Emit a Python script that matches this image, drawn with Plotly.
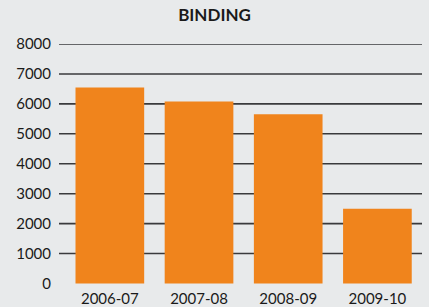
import plotly.graph_objects as go

categories = ["2006-07", "2007-08", "2008-09", "2009-10"]
values = [6550, 6080, 5650, 2500]
y_ticks = [0, 1000, 2000, 3000, 4000, 5000, 6000, 7000, 8000]
title = "BINDING"

bg = "#e8eaeb"
orange = "#f0841c"
line_col = "#3a3a3c"
font_fam = "Lato, Open Sans, sans-serif"

fig = go.Figure()
fig.add_trace(go.Bar(x=categories, y=values, marker=dict(color=orange, line=dict(width=0)), width=0.77))

for v in y_ticks:
    if v > 0:
        fig.add_shape(type="line", xref="paper", yref="y", x0=0, x1=1, y0=v, y1=v,
                      line=dict(color=line_col, width=1.6), layer="below")

fig.update_layout(
    width=429, height=307,
    paper_bgcolor=bg, plot_bgcolor=bg,
    margin=dict(l=59, r=7, t=44, b=19),
    title=dict(text="<b>" + title + "</b>", x=0.5, xanchor="center", y=0.95, yanchor="middle",
               font=dict(family=font_fam, size=17, color="#1a1a1a")),
    showlegend=False,
    bargap=0.2,
)
fig.update_xaxes(type="category", range=[-0.57, 3.5], showgrid=False, showline=False, zeroline=False,
                 ticks="", automargin=False,
                 tickfont=dict(family=font_fam, size=15, color="#1a1a1a"))
fig.update_yaxes(range=[-150, 8000], tickvals=y_ticks, ticktext=[str(v) for v in y_ticks],
                 showgrid=False, zeroline=False, showline=False, automargin=False,
                 ticks="outside", ticklen=4, tickcolor=bg,
                 tickfont=dict(family=font_fam, size=15, color="#1a1a1a"))

fig.write_html("out.html", config={"displayModeBar": False},
               post_script="document.body.style.margin='0';document.body.style.background='%s';" % bg)
